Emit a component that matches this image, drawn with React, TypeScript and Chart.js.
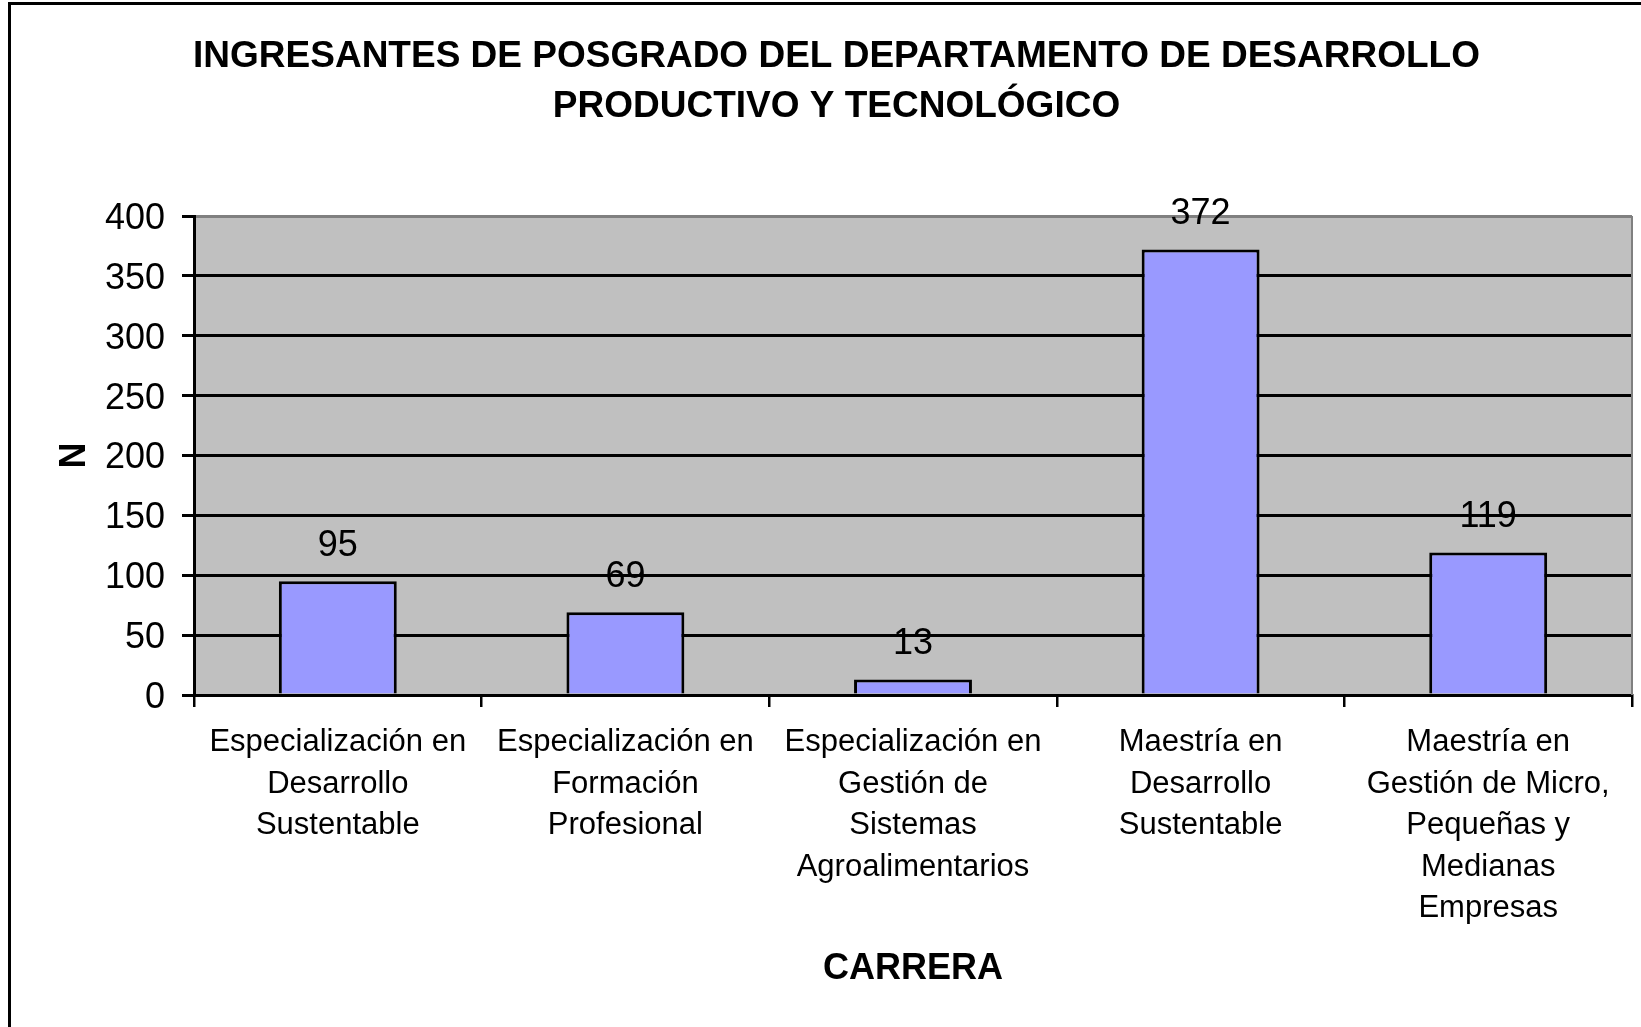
import React, { useEffect, useRef } from "react";
import { Chart, registerables } from "chart.js";

Chart.register(...registerables);

const TITLE_LINES = [
  "INGRESANTES DE POSGRADO DEL DEPARTAMENTO DE DESARROLLO",
  "PRODUCTIVO Y TECNOLÓGICO",
];
const CATEGORIES: string[][] = [
  ["Especialización en", "Desarrollo", "Sustentable"],
  ["Especialización en", "Formación", "Profesional"],
  ["Especialización en", "Gestión de", "Sistemas", "Agroalimentarios"],
  ["Maestría en", "Desarrollo", "Sustentable"],
  ["Maestría en", "Gestión de Micro,", "Pequeñas y", "Medianas", "Empresas"],
];
const VALUES = [95, 69, 13, 372, 119];
const Y_MIN = 0;
const Y_MAX = 400;
const Y_STEP = 50;
const X_TITLE = "CARRERA";
const Y_TITLE = "N";

const FONT = "'Liberation Sans', Arial, sans-serif";

const plotBgPlugin = {
  id: "plotBg",
  beforeDraw(chart: any) {
    const { ctx, chartArea } = chart;
    ctx.save();
    ctx.fillStyle = "#C0C0C0";
    ctx.fillRect(chartArea.left, chartArea.top, chartArea.right - chartArea.left, chartArea.bottom - chartArea.top);
    ctx.restore();
  },
  beforeDatasetsDraw(chart: any) {
    const { ctx, chartArea } = chart;
    ctx.save();
    ctx.strokeStyle = "#808080";
    ctx.lineWidth = 2;
    ctx.beginPath();
    ctx.moveTo(chartArea.right, chartArea.top);
    ctx.lineTo(chartArea.right, chartArea.bottom);
    ctx.stroke();
    ctx.restore();
  },
};

const valueLabelPlugin = {
  id: "valueLabels",
  afterDatasetsDraw(chart: any) {
    const { ctx } = chart;
    const meta = chart.getDatasetMeta(0);
    const data = chart.data.datasets[0].data;
    ctx.save();
    ctx.font = `36px ${FONT}`;
    ctx.fillStyle = "#000";
    ctx.textAlign = "center";
    ctx.textBaseline = "middle";
    meta.data.forEach((el: any, i: number) => {
      ctx.fillText(String(data[i]), el.x, el.y - 35);
    });
    ctx.restore();
  },
};

export default function App() {
  const ref = useRef<HTMLCanvasElement | null>(null);

  useEffect(() => {
    if (!ref.current) return;
    const chart = new Chart(ref.current, {
      type: "bar",
      data: {
        labels: CATEGORIES,
        datasets: [
          {
            data: VALUES,
            backgroundColor: "#9999FF",
            borderColor: "#000000",
            borderWidth: 3,
            barPercentage: 0.41,
            categoryPercentage: 1,
          },
        ],
      },
      options: {
        responsive: false,
        animation: false,
        devicePixelRatio: 1,
        layout: { padding: { left: 41, right: 9, top: 0, bottom: 0 } },
        plugins: {
          legend: { display: false },
          tooltip: { enabled: false },
          title: {
            display: true,
            text: TITLE_LINES,
            color: "#000",
            font: { family: FONT, size: 37, weight: "bold", lineHeight: "50px" },
            padding: { top: 32, bottom: 84 },
          },
        },
        scales: {
          x: {
            afterFit(scale: any) {
              scale.height = 332;
            },
            grid: {
              display: true,
              drawOnChartArea: false,
              offset: true,
              drawTicks: true,
              tickLength: 12,
              color: "#000",
              lineWidth: 2.5,
            },
            border: { display: true, color: "#000", width: 3 },
            ticks: {
              autoSkip: false,
              maxRotation: 0,
              minRotation: 0,
              padding: 15,
              color: "#000",
              font: { family: FONT, size: 31, lineHeight: "41.5px" },
            },
            title: {
              display: true,
              text: X_TITLE,
              color: "#000",
              font: { family: FONT, size: 36, weight: "bold", lineHeight: 1.2 },
              padding: { top: 0, bottom: 36 },
            },
          },
          y: {
            min: Y_MIN,
            max: Y_MAX,
            afterFit(scale: any) {
              scale.width = 153;
            },
            grid: {
              color: (ctx: any) => (ctx.tick && ctx.tick.value === Y_MAX ? "#808080" : "#000"),
              lineWidth: 3,
              tickColor: "#000",
              tickLength: 12,
              drawTicks: true,
            },
            border: { display: true, color: "#000", width: 3 },
            ticks: {
              stepSize: Y_STEP,
              padding: 17,
              labelOffset: 3,
              color: "#000",
              font: { family: FONT, size: 36 },
            },
            title: {
              display: true,
              text: Y_TITLE,
              color: "#000",
              font: { family: FONT, size: 36, weight: "bold", lineHeight: 1.2 },
              padding: { top: 12, bottom: 0 },
            },
          },
        },
      },
      plugins: [plotBgPlugin, valueLabelPlugin],
    } as any);
    return () => chart.destroy();
  }, []);

  return (
    <div
      style={{
        position: "absolute",
        left: 0,
        top: 0,
        width: 1641,
        height: 1027,
        overflow: "hidden",
        background: "#fff",
      }}
    >
      <canvas ref={ref} width={1641} height={1027} style={{ position: "absolute", left: 0, top: 0 }} />
      <div
        style={{
          position: "absolute",
          left: 8,
          top: 2,
          width: 2000,
          height: 2000,
          borderLeft: "3px solid #000",
          borderTop: "3px solid #000",
          pointerEvents: "none",
        }}
      />
    </div>
  );
}
